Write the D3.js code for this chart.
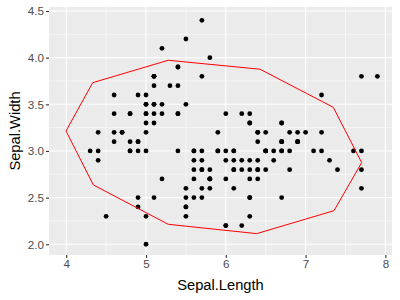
<!DOCTYPE html>
<html><head><meta charset="utf-8">
<script src="https://cdn.jsdelivr.net/npm/d3@7"></script>
<style>body{margin:0;background:#fff}svg{display:block}</style>
</head><body>
<svg id="c" width="400" height="300"></svg>
<script>
const sepalLength = [5.1,4.9,4.7,4.6,5.0,5.4,4.6,5.0,4.4,4.9,5.4,4.8,4.8,4.3,5.8,5.7,5.4,5.1,5.7,5.1,5.4,5.1,4.6,5.1,4.8,5.0,5.0,5.2,5.2,4.7,4.8,5.4,5.2,5.5,4.9,5.0,5.5,4.9,4.4,5.1,5.0,4.5,4.4,5.0,5.1,4.8,5.1,4.6,5.3,5.0,
7.0,6.4,6.9,5.5,6.5,5.7,6.3,4.9,6.6,5.2,5.0,5.9,6.0,6.1,5.6,6.7,5.6,5.8,6.2,5.6,5.9,6.1,6.3,6.1,6.4,6.6,6.8,6.7,6.0,5.7,5.5,5.5,5.8,6.0,5.4,6.0,6.7,6.3,5.6,5.5,5.5,6.1,5.8,5.0,5.6,5.7,5.7,6.2,5.1,5.7,
6.3,5.8,7.1,6.3,6.5,7.6,4.9,7.3,6.7,7.2,6.5,6.4,6.8,5.7,5.8,6.4,6.5,7.7,7.7,6.0,6.9,5.6,7.7,6.3,6.7,7.2,6.2,6.1,6.4,7.2,7.4,7.9,6.4,6.3,6.1,7.7,6.3,6.4,6.0,6.9,6.7,6.9,5.8,6.8,6.7,6.7,6.3,6.5,6.2,5.9];
const sepalWidth = [3.5,3.0,3.2,3.1,3.6,3.9,3.4,3.4,2.9,3.1,3.7,3.4,3.0,3.0,4.0,4.4,3.9,3.5,3.8,3.8,3.4,3.7,3.6,3.3,3.4,3.0,3.4,3.5,3.4,3.2,3.1,3.4,4.1,4.2,3.1,3.2,3.5,3.6,3.0,3.4,3.5,2.3,3.2,3.5,3.8,3.0,3.8,3.2,3.7,3.3,
3.2,3.2,3.1,2.3,2.8,2.8,3.3,2.4,2.9,2.7,2.0,3.0,2.2,2.9,2.9,3.1,3.0,2.7,2.2,2.5,3.2,2.8,2.5,2.8,2.9,3.0,2.8,3.0,2.9,2.6,2.4,2.4,2.7,2.7,3.0,3.4,3.1,2.3,3.0,2.5,2.6,3.0,2.6,2.3,2.7,3.0,2.9,2.9,2.5,2.8,
3.3,2.7,3.0,2.9,3.0,3.0,2.5,2.9,2.5,3.6,3.2,2.7,3.0,2.5,2.8,3.2,3.0,3.8,2.6,2.2,3.2,2.8,2.8,2.7,3.3,3.2,2.8,3.0,2.8,3.0,2.8,3.8,2.8,2.8,2.6,3.0,3.4,3.1,3.0,3.1,3.1,3.1,2.7,3.2,3.3,3.0,2.5,3.0,3.4,3.0];
// ellipse polygon vertices
const ellipseX = [3.997,4.332,5.279,6.429,7.347,7.703,7.356,6.387,5.279,4.340];
const ellipseY = [3.214,3.732,3.972,3.876,3.468,2.875,2.360,2.114,2.214,2.636];
const xTicks = [4,5,6,7,8];
const yTicks = [2.0,2.5,3.0,3.5,4.0,4.5];
const xMinor = [4.5,5.5,6.5,7.5];
const yMinor = [2.25,2.75,3.25,3.75,4.25];

const svg = d3.select("#c");
const L=49, R=392, T=7, B=255;
const x = d3.scaleLinear().domain([3.784,8.083]).range([L,R]);
const y = d3.scaleLinear().domain([1.885,4.543]).range([B,T]);

svg.append("rect").attr("x",L).attr("y",T).attr("width",R-L).attr("height",B-T).attr("fill","#EBEBEB");
const g = svg.append("g");
g.selectAll(".xm").data(xMinor).join("line").attr("x1",d=>x(d)).attr("x2",d=>x(d)).attr("y1",T).attr("y2",B).attr("stroke","#fff").attr("stroke-width",0.55);
g.selectAll(".ym").data(yMinor).join("line").attr("y1",d=>y(d)).attr("y2",d=>y(d)).attr("x1",L).attr("x2",R).attr("stroke","#fff").attr("stroke-width",0.55);
g.selectAll(".xM").data(xTicks).join("line").attr("x1",d=>x(d)).attr("x2",d=>x(d)).attr("y1",T).attr("y2",B).attr("stroke","#fff").attr("stroke-width",1.1);
g.selectAll(".yM").data(yTicks).join("line").attr("y1",d=>y(d)).attr("y2",d=>y(d)).attr("x1",L).attr("x2",R).attr("stroke","#fff").attr("stroke-width",1.1);

const pts = sepalLength.map((v,i)=>[v,sepalWidth[i]]);
svg.append("g").selectAll("circle").data(pts).join("circle")
  .attr("cx",d=>x(d[0])).attr("cy",d=>y(d[1])).attr("r",2.4).attr("fill","#000");

const poly = ellipseX.map((v,i)=>[x(v),y(ellipseY[i])]);
svg.append("path").attr("d",d3.line().curve(d3.curveLinearClosed)(poly))
  .attr("fill","none").attr("stroke","#FF0000").attr("stroke-width",1);

const xAxis = svg.append("g").attr("transform",`translate(0,${B})`)
  .call(d3.axisBottom(x).tickValues(xTicks).tickFormat(d3.format("d")).tickSize(3).tickPadding(2));
const yAxis = svg.append("g").attr("transform",`translate(${L},0)`)
  .call(d3.axisLeft(y).tickValues(yTicks).tickFormat(d3.format(".1f")).tickSize(3).tickPadding(2));
[xAxis,yAxis].forEach(a=>{
  a.select(".domain").remove();
  a.selectAll(".tick line").attr("stroke","#333").attr("stroke-width",1.1);
  a.selectAll(".tick text").attr("fill","#4D4D4D").style("font-family","Liberation Sans, Arial, sans-serif").style("font-size","11.7px");
});

svg.append("text").attr("x",(L+R)/2).attr("y",290).attr("text-anchor","middle")
  .style("font-family","Liberation Sans, Arial, sans-serif").style("font-size","14.7px").attr("fill","#000").text("Sepal.Length");
svg.append("text").attr("transform",`translate(20,${(T+B)/2}) rotate(-90)`).attr("text-anchor","middle")
  .style("font-family","Liberation Sans, Arial, sans-serif").style("font-size","14.7px").attr("fill","#000").text("Sepal.Width");
</script>
</body></html>
